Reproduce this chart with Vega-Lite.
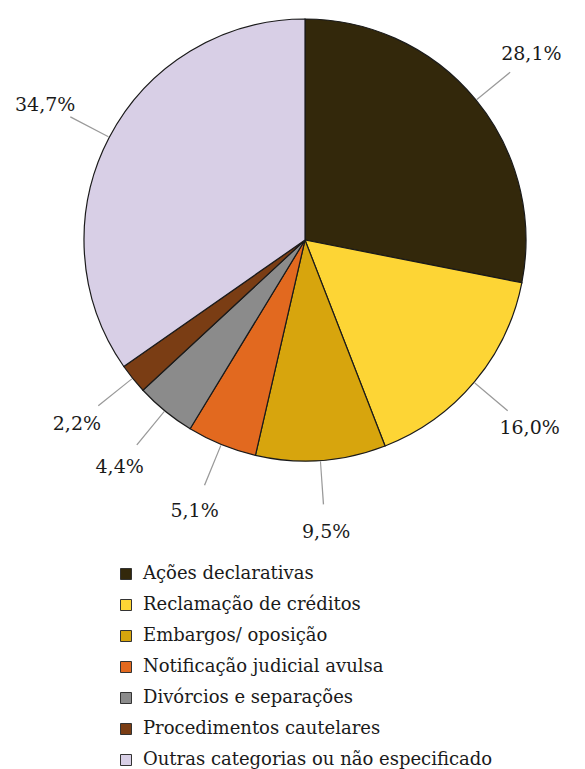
{
  "$schema": "https://vega.github.io/schema/vega-lite/v6.json",
  "width": 560,
  "height": 480,
  "autosize": {"type": "none"},
  "padding": {"left": 25, "top": 0, "right": 0, "bottom": 289},
  "background": "white",
  "data": {
    "values": [
      {"category": "Ações declarativas", "value": 28.1, "label": "28,1%", "order": 1},
      {"category": "Reclamação de créditos", "value": 16.0, "label": "16,0%", "order": 2},
      {"category": "Embargos/ oposição", "value": 9.5, "label": "9,5%", "order": 3},
      {"category": "Notificação judicial avulsa", "value": 5.1, "label": "5,1%", "order": 4},
      {"category": "Divórcios e separações", "value": 4.4, "label": "4,4%", "order": 5},
      {"category": "Procedimentos cautelares", "value": 2.2, "label": "2,2%", "order": 6},
      {"category": "Outras categorias ou não especificado", "value": 34.7, "label": "34,7%", "order": 7}
    ]
  },
  "transform": [
    {"stack": "value", "groupby": [], "as": ["start", "end"], "sort": [{"field": "order", "order": "ascending"}]},
    {"calculate": "(datum.start + datum.end) / 2", "as": "mid"},
    {"calculate": "datum.mid + 0.08", "as": "mid2"}
  ],
  "layer": [
    {
      "mark": {"type": "arc", "innerRadius": 222, "outerRadius": 265, "fill": "#9a9a9a", "strokeWidth": 0},
      "encoding": {
        "theta": {"field": "mid", "type": "quantitative", "stack": null, "scale": {"domain": [0, 100], "range": [0, 6.283185307]}},
        "theta2": {"field": "mid2"}
      }
    },
    {
      "mark": {"type": "arc", "outerRadius": 221, "stroke": "#1a1a1a", "strokeWidth": 1.2},
      "encoding": {
        "theta": {"field": "start", "type": "quantitative", "stack": null, "scale": {"domain": [0, 100], "range": [0, 6.283185307]}},
        "theta2": {"field": "end"},
        "color": {
          "field": "category",
          "type": "nominal",
          "scale": {
            "domain": ["Ações declarativas", "Reclamação de créditos", "Embargos/ oposição", "Notificação judicial avulsa", "Divórcios e separações", "Procedimentos cautelares", "Outras categorias ou não especificado"],
            "range": ["#33280b", "#fdd535", "#d7a50d", "#e2691f", "#8b8b8b", "#7a3d14", "#d8cfe6"]
          },
          "legend": {
            "orient": "none",
            "legendX": 92,
            "legendY": 565,
            "title": null,
            "padding": 0,
            "symbolType": "square",
            "symbolSize": 121,
            "symbolStrokeColor": "#333333",
            "symbolStrokeWidth": 1,
            "labelFont": "DejaVu Serif",
            "labelFontSize": 18,
            "labelColor": "#1a1a1a",
            "labelOffset": 8,
            "rowPadding": 13,
            "labelLimit": 500
          }
        },
        "order": {"field": "order", "type": "quantitative"}
      }
    },
    {
      "mark": {"type": "text", "radius": 293, "font": "DejaVu Serif", "fontSize": 19, "color": "#1a1a1a", "align": "center", "baseline": "middle"},
      "encoding": {
        "theta": {"field": "mid", "type": "quantitative", "stack": null, "scale": {"domain": [0, 100], "range": [0, 6.283185307]}},
        "text": {"field": "label", "type": "nominal"}
      }
    }
  ],
  "config": {"view": {"stroke": null}}
}
